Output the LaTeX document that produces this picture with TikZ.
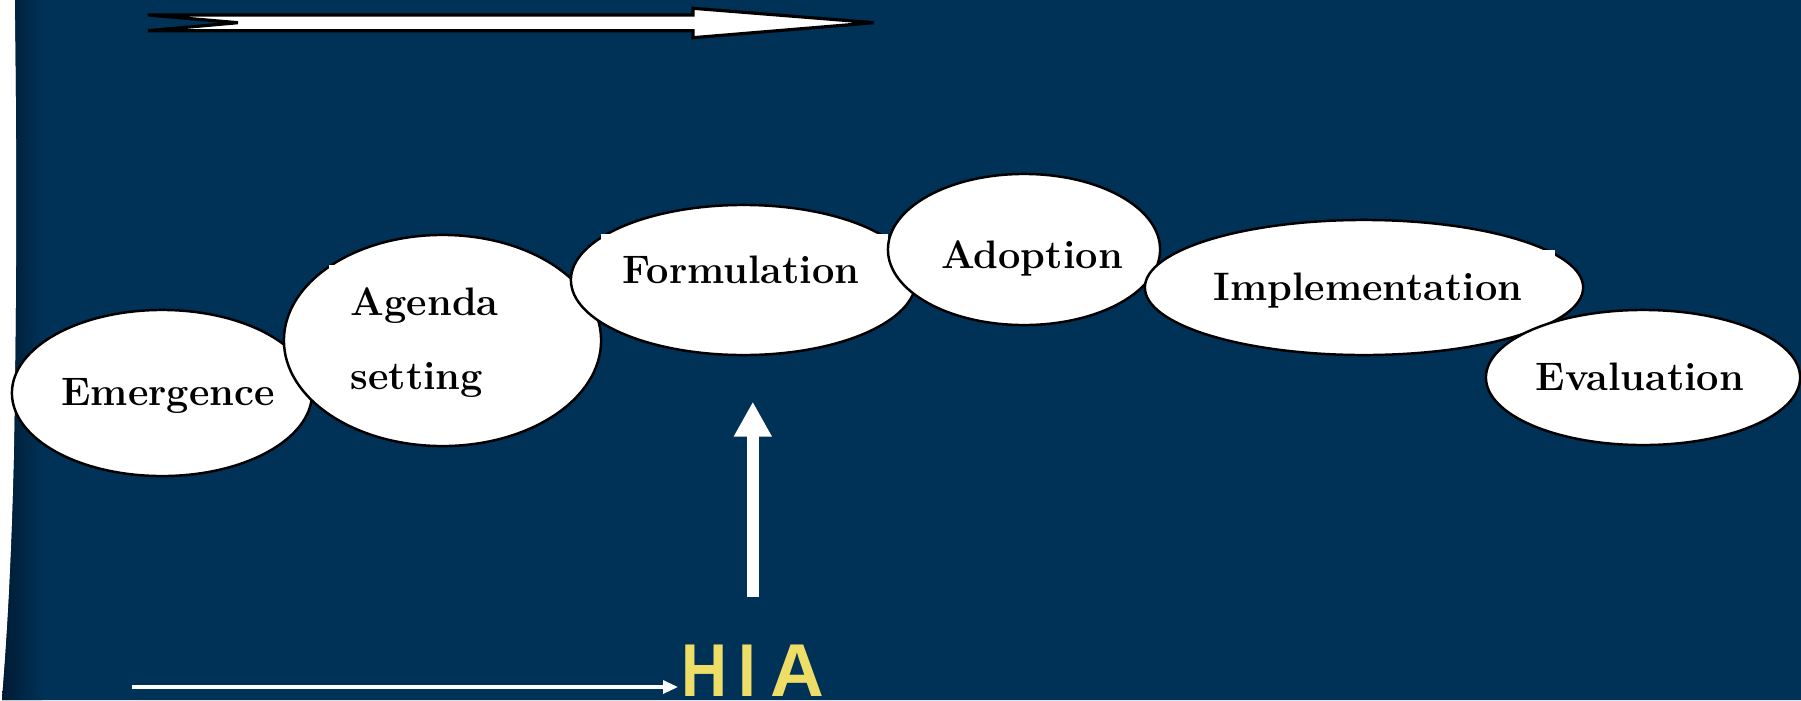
\documentclass[tikz,border=0pt]{standalone}
\usepackage{fontspec}
\usepackage{graphicx}
\usetikzlibrary{shapes.geometric,arrows.meta}
\newfontfamily\hiafont[FakeStretch=0.85]{Liberation Sans}
\definecolor{bgblue}{RGB}{0,49,86}
\definecolor{edgeblue}{RGB}{0,26,50}
\definecolor{hiayellow}{RGB}{238,222,104}
\begin{document}
\begin{tikzpicture}[x=0.01cm,y=-0.01cm,
  stage/.style={ellipse,draw=black,fill=white,line width=0.7pt,inner sep=0pt},
  lbl/.style={font=\fontsize{11.3}{13}\selectfont\bfseries,text=black,inner sep=0pt,anchor=base},
  patch/.style={fill=white,draw=none},
  bigarrow/.style={draw=black,fill=white,line width=0.9pt,line join=miter}]
\useasboundingbox (0,0) rectangle (1801,700);
\fill[white] (0,0) rectangle (1801,700);
\def\bgpath{(15,0) .. controls (17,150) and (17,300) .. (14,460) .. controls (11,580) and (6,650) .. (2,700) -- (1801,700) -- (1801,0) -- cycle}
\fill[bgblue] \bgpath;
\begin{scope}
  \clip \bgpath;
  \shade[left color=edgeblue,right color=bgblue] (0,0) rectangle (42,700);
\end{scope}
% top notched arrow
\path[bigarrow] (148,15) -- (693,15) -- (693,8.3) -- (874,22.7) -- (693,37.7) -- (693,30.7) -- (148,30.7) -- (238,22.7) -- cycle;
% stages
\node[stage,minimum width=3.00cm,minimum height=1.66cm] (emg) at (162,393) {};
\node[lbl] (temg) at (168,405) {Emergence};
\node[stage,minimum width=3.17cm,minimum height=2.11cm] (agd) at (442.5,340.5) {};
\fill[patch] (329,265) rectangle (380,300);
\node[lbl,anchor=base west] (tagd) at (350,315) {\vtop{\baselineskip=21.3pt\hbox{Agenda}\hbox{setting}}};
\node[stage,minimum width=3.45cm,minimum height=1.50cm] (frm) at (743.5,280) {};
\fill[patch] (601,234) rectangle (650,270);
\fill[patch] (888,234) rectangle (840,270);
\node[lbl] (tfrm) at (741,283) {Formulation};
\node[stage,minimum width=2.72cm,minimum height=1.51cm] (adp) at (1024,249.5) {};
\node[lbl] (tadp) at (1032,268) {Adoption};
\node[stage,minimum width=4.38cm,minimum height=1.35cm] (imp) at (1364,287.5) {};
\fill[patch] (1555,250) rectangle (1500,285);
\node[lbl] (timp) at (1368,300) {Implementation};
\node[stage,minimum width=3.14cm,minimum height=1.35cm] (evl) at (1643,377.5) {};
\node[lbl] (tevl) at (1640,390) {Evaluation};
% HIA
\node[anchor=base west,inner sep=0pt,text=hiayellow,font=\fontsize{21.3}{24}\selectfont\hiafont\bfseries] (hia) at (681,696) {H\kern3pt I\kern4.2pt \scalebox{1.17}[1]{A}};
\coordinate (vs) at (752.8,597.3);
\coordinate (ve) at (752.8,401.7);
\draw[white,line width=0.123cm,-{Triangle[width=0.357cm,length=0.35cm]}] (vs) -- (ve);
\coordinate (bs) at (132,687);
\coordinate (be) at (678,687);
\draw[white,line width=0.9pt,-{Triangle[width=0.13cm,length=0.15cm]}] (bs) -- (be);
\end{tikzpicture}
\end{document}
